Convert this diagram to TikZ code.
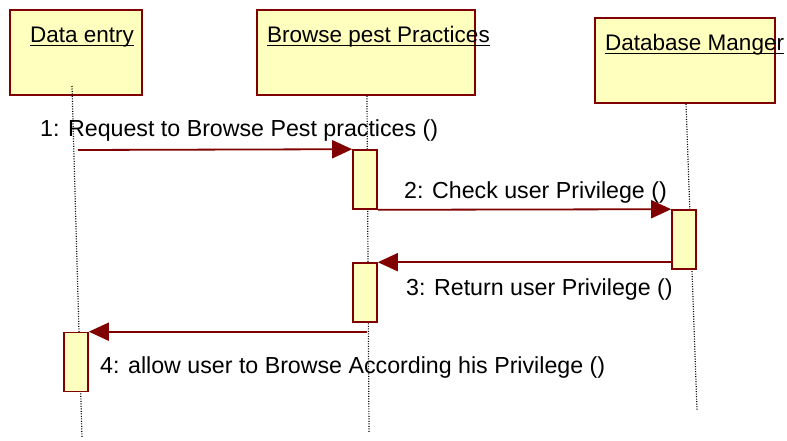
\documentclass[tikz,border=0pt]{standalone}
\usepackage{fontspec}
\setmainfont{Liberation Sans}
\usetikzlibrary{positioning,arrows.meta}

\definecolor{umlred}{RGB}{128,0,0}
\definecolor{umlfill}{RGB}{255,255,190}

\begin{document}
\begin{tikzpicture}[x=1pt,y=-1pt,
    object/.style={draw=umlred,fill=umlfill,line width=1.6pt,minimum height=85pt,inner sep=0pt},
    activation/.style={draw=umlred,fill=umlfill,line width=1.6pt,minimum width=24pt,minimum height=59pt,inner sep=0pt},
    lifeline/.style={line width=1.2pt,dash pattern=on 1pt off 1.5pt},
    msg/.style={draw=umlred,line width=1.8pt,-{Triangle[length=20pt,width=18pt]}},
    txt/.style={font=\fontsize{23.2}{27}\selectfont,inner sep=0pt,anchor=base west},
    head/.style={txt,font=\fontsize{22.5}{26}\selectfont},
    uline/.style={line width=1.8pt}]
    \useasboundingbox (0,0) rectangle (787,441);

    % objects
    \node[object,minimum width=132pt] (entry) at (76,52.5) {};
    \node[object,minimum width=218pt] (browse) at (366,52.5) {};
    \node[object,minimum width=180pt] (dbman) at (685,60.5) {};
    \node[head] (entry label) at (30,43) {Data entry};
    \node[head] (browse label) at (267,43) {Browse pest Practices};
    \node[head] (dbman label) at (605,51) {Database Manger};
    \foreach \n in {entry,browse,dbman}
        \draw[uline] ([yshift=-2.6pt]\n\space label.base west) -- ([yshift=-2.6pt]\n\space label.base east);

    % lifelines
    \coordinate (entry top) at (72,86);
    \coordinate (entry end) at (82,438);
    \coordinate (browse end) at (369,432);
    \coordinate (dbman end) at (697,410);
    \draw[lifeline] (entry top) -- (entry end);
    \draw[lifeline] (browse.south) ++(1,0) -- (browse end);
    \draw[lifeline] (dbman.south) ++(1,0) -- (dbman end);

    % activations
    \node[activation] (act1) at (365,179.5) {};
    \node[activation] (act2) at (684,239.5) {};
    \node[activation] (act3) at (365,292.5) {};
    \node[activation] (act4) at (76,362) {};

    % messages
    \coordinate (m1 start) at (78,150);
    \draw[msg] (m1 start) -- (act1.north west);
    \draw[msg] (act1.south east) -- (act2.north west);
    \draw[msg] (act2.west |- act3.north) -- (act3.north east);
    \draw[msg] ([xshift=2pt]act3.south |- act4.north) -- (act4.north east);

    \node[txt] (m1 label) at (40,137) {1: Request to Browse Pest practices ()};
    \node[txt] (m2 label) at (404,198) {2: Check user Privilege ()};
    \node[txt] (m3 label) at (406,295) {3: Return user Privilege ()};
    \node[txt] (m4 label) at (100,373) {4: allow user to Browse According his Privilege ()};
\end{tikzpicture}
\end{document}
